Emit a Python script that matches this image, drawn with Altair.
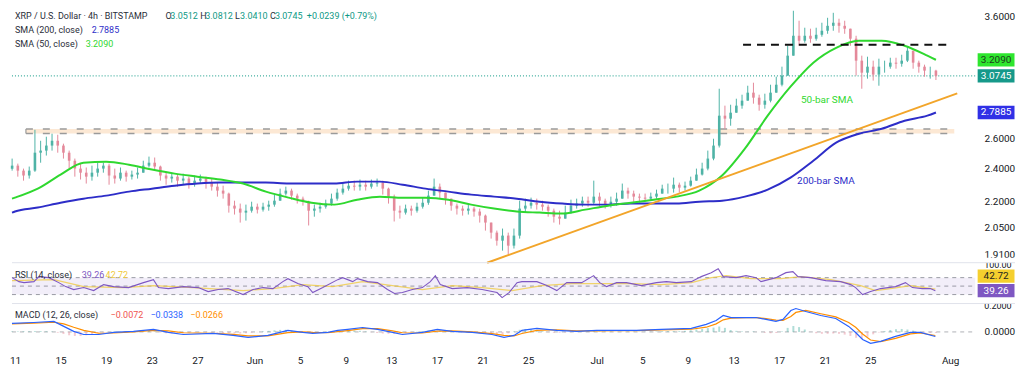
import altair as alt
import pandas as pd

FONT = "Roboto"
W, H_PRICE, H_RSI, H_MACD = 967, 255, 41, 47
EDGE = 40  # how far separators reach to the right of the plot

# ---------------- axes (x = days since 2025-05-11 00:00) ----------------
x_domain = [-0.262, 84.19]
tick_days = [0, 4, 8, 12, 16, 21, 25, 29, 33, 37, 41, 45, 51, 55, 59, 63, 67, 71, 75, 82]
tick_labels = ["11", "15", "19", "23", "27", "Jun", "5", "9", "13", "17", "21", "25",
               "Jul", "5", "9", "13", "17", "21", "25", "Aug"]
price_domain = [1.868, 3.678]
price_ticks = [1.91, 2.05, 2.2, 2.4, 2.6, 3.6]
rsi_domain = [8.8, 105.3]
macd_domain = [-0.137, 0.211]

# ---------------- candles (12h sampling of the 4h chart) ----------------
candle_start = -0.25
candle_step = 0.5
first_open = 2.40
close = [
    2.420, 2.388, 2.357, 2.388, 2.505, 2.519, 2.553, 2.586, 2.553, 2.505,
    2.452, 2.401, 2.375, 2.350, 2.375, 2.401, 2.420, 2.357, 2.338, 2.375,
    2.350, 2.363, 2.375, 2.420, 2.439, 2.414, 2.357, 2.338, 2.350, 2.325,
    2.338, 2.307, 2.325, 2.338, 2.313, 2.288, 2.264, 2.246, 2.175, 2.158,
    2.135, 2.146, 2.169, 2.152, 2.169, 2.181, 2.204, 2.246, 2.264, 2.234,
    2.216, 2.198, 2.146, 2.158, 2.169, 2.187, 2.216, 2.252, 2.276, 2.294,
    2.288, 2.300, 2.288, 2.307, 2.313, 2.276, 2.228, 2.146, 2.135, 2.158,
    2.146, 2.169, 2.192, 2.234, 2.288, 2.252, 2.216, 2.175, 2.158, 2.146,
    2.158, 2.141, 2.118, 2.079, 2.024, 1.981, 2.008, 1.955, 2.008, 2.158,
    2.175, 2.192, 2.181, 2.169, 2.146, 2.112, 2.101, 2.135, 2.175, 2.187,
    2.204, 2.192, 2.228, 2.204, 2.181, 2.198, 2.216, 2.264, 2.246, 2.228,
    2.222, 2.216, 2.228, 2.246, 2.276, 2.276, 2.300, 2.282, 2.294, 2.325,
    2.363, 2.401, 2.466, 2.553, 2.765, 2.743, 2.787, 2.840, 2.878, 2.940,
    2.901, 2.847, 2.878, 2.940, 3.003, 3.077, 3.245, 3.422, 3.377, 3.422,
    3.395, 3.431, 3.468, 3.514, 3.543, 3.514, 3.487, 3.395, 3.202, 3.101,
    3.151, 3.085, 3.151, 3.151, 3.185, 3.176, 3.202, 3.288, 3.185, 3.151,
    3.118, 3.118, 3.0745]
high = [
    2.466, 2.433, 2.401, 2.414, 2.663, 2.586, 2.614, 2.635, 2.628, 2.566,
    2.519, 2.466, 2.433, 2.408, 2.420, 2.439, 2.439, 2.433, 2.401, 2.408,
    2.388, 2.388, 2.408, 2.452, 2.479, 2.473, 2.420, 2.375, 2.375, 2.363,
    2.369, 2.350, 2.357, 2.363, 2.350, 2.338, 2.313, 2.294, 2.252, 2.204,
    2.187, 2.181, 2.198, 2.187, 2.192, 2.204, 2.240, 2.276, 2.288, 2.276,
    2.246, 2.228, 2.204, 2.181, 2.192, 2.210, 2.246, 2.276, 2.313, 2.325,
    2.325, 2.332, 2.325, 2.332, 2.338, 2.325, 2.282, 2.240, 2.175, 2.181,
    2.175, 2.192, 2.222, 2.264, 2.338, 2.307, 2.252, 2.216, 2.187, 2.175,
    2.181, 2.169, 2.158, 2.124, 2.079, 2.035, 2.046, 2.024, 2.046, 2.204,
    2.216, 2.222, 2.216, 2.204, 2.181, 2.158, 2.146, 2.175, 2.210, 2.216,
    2.228, 2.228, 2.325, 2.252, 2.216, 2.228, 2.252, 2.307, 2.282, 2.264,
    2.246, 2.246, 2.252, 2.270, 2.300, 2.307, 2.344, 2.313, 2.319, 2.350,
    2.401, 2.439, 2.519, 2.600, 2.971, 2.840, 2.847, 2.893, 2.924, 2.995,
    3.019, 2.924, 2.932, 3.003, 3.068, 3.151, 3.332, 3.658, 3.562, 3.496,
    3.487, 3.496, 3.543, 3.590, 3.638, 3.581, 3.562, 3.487, 3.422, 3.245,
    3.236, 3.202, 3.219, 3.202, 3.227, 3.227, 3.253, 3.323, 3.288, 3.202,
    3.168, 3.151, 3.125]
low = [
    2.388, 2.350, 2.325, 2.338, 2.380, 2.439, 2.486, 2.519, 2.505, 2.466,
    2.401, 2.350, 2.332, 2.307, 2.325, 2.350, 2.375, 2.300, 2.307, 2.325,
    2.319, 2.332, 2.338, 2.375, 2.408, 2.388, 2.325, 2.300, 2.313, 2.288,
    2.300, 2.276, 2.288, 2.307, 2.276, 2.264, 2.228, 2.216, 2.135, 2.124,
    2.079, 2.090, 2.135, 2.130, 2.141, 2.146, 2.169, 2.204, 2.234, 2.210,
    2.187, 2.175, 2.063, 2.112, 2.135, 2.158, 2.175, 2.204, 2.240, 2.264,
    2.264, 2.264, 2.264, 2.276, 2.288, 2.240, 2.187, 2.085, 2.101, 2.124,
    2.118, 2.135, 2.158, 2.180, 2.234, 2.216, 2.181, 2.146, 2.124, 2.118,
    2.124, 2.112, 2.079, 2.035, 1.992, 1.955, 1.929, 1.909, 1.940, 1.992,
    2.135, 2.158, 2.152, 2.146, 2.112, 2.079, 2.068, 2.101, 2.128, 2.158,
    2.169, 2.169, 2.181, 2.169, 2.158, 2.164, 2.175, 2.216, 2.216, 2.198,
    2.192, 2.198, 2.204, 2.216, 2.246, 2.246, 2.252, 2.252, 2.264, 2.288,
    2.325, 2.357, 2.390, 2.455, 2.540, 2.670, 2.692, 2.787, 2.817, 2.878,
    2.855, 2.802, 2.817, 2.865, 2.940, 2.990, 3.077, 3.245, 3.332, 3.359,
    3.359, 3.377, 3.413, 3.440, 3.468, 3.450, 3.440, 3.332, 3.077, 2.971,
    3.052, 3.036, 2.995, 3.101, 3.134, 3.134, 3.151, 3.190, 3.134, 3.101,
    3.068, 3.052, 3.041]

# ---------------- moving averages ----------------
sma_t = [-0.26, 0, 2, 4, 6, 8, 10, 12, 14, 16, 18, 20, 22, 24, 26, 28, 30, 32, 34, 36,
         38, 40, 42, 44, 46, 48, 50, 52, 54, 56, 58, 60, 62, 64, 66, 68, 70, 72, 74,
         76, 78, 80, 80.75]
sma50 = [2.216, 2.222, 2.276, 2.363, 2.439, 2.446, 2.426, 2.395, 2.369, 2.350, 2.332,
         2.307, 2.258, 2.222, 2.192, 2.181, 2.210, 2.228, 2.222, 2.222, 2.210, 2.181,
         2.158, 2.141, 2.135, 2.130, 2.152, 2.175, 2.192, 2.210, 2.228, 2.264, 2.357,
         2.532, 2.765, 2.987, 3.185, 3.314, 3.377, 3.377, 3.332, 3.245, 3.209]
sma200 = [2.135, 2.141, 2.164, 2.192, 2.216, 2.234, 2.258, 2.276, 2.294, 2.307, 2.313,
          2.313, 2.313, 2.307, 2.307, 2.307, 2.319, 2.319, 2.300, 2.276, 2.258, 2.240,
          2.228, 2.216, 2.198, 2.187, 2.181, 2.181, 2.187, 2.187, 2.187, 2.198, 2.204,
          2.228, 2.270, 2.344, 2.452, 2.573, 2.635, 2.670, 2.728, 2.765, 2.7885]

# ---------------- drawings ----------------
zone_t = [0.96, 82.36]
zone_price = [2.637, 2.668]
trend_t = [41.40, 82.62]
trend_price = [1.868, 2.934]
resist_t = [63.84, 81.83]
resist_price = 3.341
last_price = 3.0745

# ---------------- RSI ----------------
rsi_t = [-0.26, 0.35, 0.79, 1.66, 2.10, 2.97, 3.84, 4.45, 5.15, 6.03, 6.90, 7.77, 8.65,
         9.96, 11.27, 12.14, 12.58, 13.45, 14.76, 16.07, 16.94, 17.82, 18.69, 20.00,
         20.87, 21.75, 22.62, 23.49, 23.93, 24.80, 25.68, 26.11, 26.99, 28.30, 28.73,
         29.61, 30.04, 30.92, 31.79, 32.66, 33.28, 33.97, 34.85, 35.72, 36.42, 36.86,
         37.29, 38.34, 39.65, 40.96, 42.27, 42.71, 43.32, 44.02, 44.45, 45.76, 46.64,
         47.51, 48.38, 49.69, 50.74, 51.27, 51.88, 52.75, 53.62, 54.93, 56.24, 57.12,
         57.99, 59.30, 60.17, 61.05, 61.66, 62.10, 63.23, 64.10, 64.98, 65.41, 66.72,
         67.60, 68.21, 68.65, 69.78, 71.09, 72.40, 73.28, 73.71, 74.32, 75.02, 75.90,
         77.21, 78.08, 78.69, 79.56, 80.26, 80.70]
rsi_v = [70.0, 60.6, 58.2, 60.6, 72.4, 70.0, 58.2, 48.8, 41.8, 46.5, 39.4, 53.5, 48.8,
         46.5, 58.2, 65.3, 46.5, 44.1, 48.8, 46.5, 37.1, 41.8, 44.1, 30.0, 41.8, 46.5,
         44.1, 60.6, 67.6, 55.9, 48.8, 34.7, 46.5, 65.3, 70.0, 60.6, 67.6, 60.6, 58.2,
         41.8, 32.4, 34.7, 41.8, 46.5, 60.6, 74.7, 53.5, 44.1, 46.5, 41.8, 34.7, 22.9,
         34.7, 58.2, 60.6, 60.6, 51.2, 39.4, 58.2, 58.2, 74.7, 58.2, 48.8, 58.2, 58.2,
         51.2, 58.2, 60.6, 58.2, 60.6, 72.4, 81.8, 91.2, 72.4, 70.0, 74.7, 70.0, 60.6,
         70.0, 81.8, 84.1, 72.4, 70.0, 62.9, 60.6, 53.5, 46.5, 30.0, 37.1, 44.1, 48.8,
         58.2, 46.5, 44.1, 44.1, 39.26]
rsima_t = [-0.26, 3.41, 6.03, 9.52, 12.14, 15.63, 20.00, 22.62, 25.24, 27.86, 30.48,
           33.10, 35.72, 38.34, 40.96, 43.58, 46.20, 48.82, 51.44, 54.06, 56.68, 59.30,
           61.05, 62.36, 64.54, 67.16, 68.91, 71.53, 74.15, 75.46, 76.77, 78.52, 80.70]
rsima_v = [62.9, 65.3, 48.8, 46.5, 51.2, 46.5, 39.4, 44.1, 53.5, 48.8, 60.6, 51.2, 41.8,
           51.2, 46.5, 39.4, 51.2, 55.9, 55.9, 55.9, 53.5, 58.2, 70.0, 74.7, 67.6, 67.6,
           72.4, 65.3, 51.2, 39.4, 44.1, 51.2, 42.72]
rsi_levels = [30, 50, 70]

# ---------------- MACD ----------------
macd_t = [-0.26, 1.66, 3.41, 4.28, 5.15, 6.03, 7.34, 8.65, 10.39, 12.14, 13.45, 14.76,
          17.38, 19.13, 20.44, 22.18, 23.93, 25.24, 26.11, 27.42, 28.30, 29.17, 30.48,
          31.79, 33.10, 33.97, 35.72, 37.03, 38.34, 40.09, 41.83, 42.88, 43.76, 44.45,
          45.76, 47.51, 49.26, 51.00, 52.75, 54.50, 56.68, 59.30, 60.61, 61.48, 62.10,
          62.79, 64.10, 64.98, 65.85, 66.72, 67.34, 68.03, 68.47, 69.34, 70.66, 71.97,
          73.10, 73.71, 74.32, 75.02, 75.90, 77.21, 78.52, 79.39, 80.70]
macd_v = [0.063, 0.070, 0.078, 0.041, 0.004, -0.019, -0.019, -0.004, 0.004, 0.019,
          -0.004, -0.019, -0.011, -0.026, -0.041, -0.026, 0.011, -0.004, -0.011, -0.004,
          0.011, 0.019, 0.033, 0.019, -0.004, -0.019, -0.004, 0.019, 0.004, -0.004,
          -0.019, -0.041, -0.026, 0.011, 0.026, 0.011, 0.004, 0.011, 0.011, 0.011,
          0.019, 0.026, 0.056, 0.085, 0.122, 0.107, 0.107, 0.107, 0.093, 0.078,
          0.093, 0.159, 0.174, 0.152, 0.122, 0.100, 0.041, -0.004, -0.056, -0.085,
          -0.070, -0.033, -0.004, -0.004, -0.0338]
signal_v = [0.060, 0.066, 0.072, 0.060, 0.035, 0.012, -0.010, -0.008, 0.000, 0.012,
            0.008, -0.006, -0.010, -0.018, -0.030, -0.030, -0.005, 0.000, -0.004, -0.006,
            0.002, 0.010, 0.024, 0.024, 0.008, -0.006, -0.008, 0.006, 0.008, 0.000,
            -0.012, -0.026, -0.030, -0.012, 0.012, 0.016, 0.008, 0.008, 0.010, 0.010,
            0.015, 0.020, 0.035, 0.060, 0.090, 0.102, 0.106, 0.106, 0.100, 0.088,
            0.086, 0.115, 0.145, 0.160, 0.135, 0.112, 0.070, 0.035, -0.015, -0.060,
            -0.072, -0.048, -0.015, -0.008, -0.0266]
hist = [0.004, 0.004, 0.005, 0.005, 0.006, 0.006, 0.005, 0.003, -0.006, -0.015,
        -0.025, -0.030, -0.030, -0.025, -0.015, -0.010, -0.005, 0.000, 0.004, 0.004,
        0.005, 0.005, 0.006, 0.007, 0.007, 0.004, -0.004, -0.010, -0.012, -0.012,
        -0.010, -0.006, -0.004, -0.002, -0.002, -0.004, -0.006, -0.008, -0.010, -0.012,
        -0.012, -0.010, -0.006, -0.002, 0.004, 0.008, 0.012, 0.015, 0.016, 0.010,
        0.004, -0.002, -0.006, -0.006, -0.004, 0.002, 0.006, 0.008, 0.010, 0.010,
        0.010, 0.008, 0.004, -0.002, -0.008, -0.012, -0.014, -0.014, -0.012, -0.008,
        -0.004, 0.002, 0.006, 0.010, 0.014, 0.012, 0.006, 0.002, -0.002, -0.004,
        -0.006, -0.008, -0.010, -0.012, -0.014, -0.016, -0.016, -0.010, 0.004, 0.016,
        0.022, 0.020, 0.014, 0.006, -0.002, -0.006, -0.006, -0.004, -0.002, 0.002,
        0.004, 0.004, 0.006, 0.004, 0.002, 0.002, 0.000, 0.002, 0.002, 0.002,
        0.002, 0.002, 0.002, 0.004, 0.006, 0.006, 0.006, 0.006, 0.008, 0.012,
        0.018, 0.022, 0.028, 0.032, 0.040, 0.030, 0.014, 0.008, 0.004, 0.002,
        0.004, 0.000, -0.006, -0.010, -0.008, 0.004, 0.030, 0.044, 0.036, 0.018,
        0.000, -0.010, -0.014, -0.014, -0.012, -0.014, -0.020, -0.030, -0.044, -0.052,
        -0.036, -0.018, -0.004, 0.006, 0.014, 0.020, 0.022, 0.018, 0.010, 0.000,
        -0.006, -0.008, -0.0072]

# ---------------- colours ----------------
UP, DOWN = "#4fb3a6", "#e4899a"
GREEN, BLUE, ORANGE = "#2fd82f", "#2d2dc8", "#f2a52a"
TEAL, DARK = "#0e9985", "#2a2e39"
PURPLE, YELLOW = "#7e57c2", "#f0c93a"
MACD_BLUE, MACD_ORANGE, HIST_RED = "#2962ff", "#ff8f00", "#ef5350"
SEP = "#e0e3eb"
BOX = "M-1,-0.36L1,-0.36L1,0.36L-1,0.36Z"

# ---------------- data tables ----------------
n = min(len(close), len(high), len(low))
candle_t = [candle_start + candle_step * i for i in range(n)]
opens = [first_open] + close[: n - 1]
candles = pd.DataFrame({"t": candle_t, "open": opens, "close": close[:n],
                        "high": high[:n], "low": low[:n]})
candles["dir"] = ["up" if c >= o else "down" for o, c in zip(opens, close[:n])]
sma = pd.DataFrame({"t": sma_t, "sma50": sma50, "sma200": sma200})
rsi_df = pd.DataFrame({"t": rsi_t, "v": rsi_v})
rsima_df = pd.DataFrame({"t": rsima_t, "v": rsima_v})
macd_df = pd.DataFrame({"t": macd_t, "macd": macd_v, "signal": signal_v})
hist_df = pd.DataFrame({"t": candle_t[: len(hist)], "h": hist[: len(candle_t)]})
hist_df["zero"] = 0.0
hist_df["dir"] = ["up" if v >= 0 else "down" for v in hist_df["h"]]

# ---------------- scales / encodings ----------------
xs = alt.Scale(domain=x_domain, nice=False, zero=False, padding=0)
label_expr = ("[" + ",".join(f"'{s}'" for s in tick_labels) + "][indexof(["
              + ",".join(str(d) for d in tick_days) + "], datum.value)]")
x_axis = alt.Axis(values=tick_days, labelExpr=label_expr, labelPadding=5,
                  labelFontSize=10, labelColor="#131722", labelFont=FONT,
                  domain=False, ticks=False, grid=False, labelFlush=False)


def X(f, axis=None):
    return alt.X(f, type="quantitative", scale=xs, axis=axis, title=None)


ps = alt.Scale(type="log", domain=price_domain, nice=False, padding=0)
p_axis = alt.Axis(orient="right", values=price_ticks, format=".4f", labelPadding=9,
                  labelFontSize=10, labelColor="#131722", labelFont=FONT,
                  domain=False, ticks=False, grid=False, labelOverlap=False)


def PY(f):
    return alt.Y(f, type="quantitative", scale=ps, axis=p_axis, title=None)


rs = alt.Scale(domain=rsi_domain, nice=False, zero=False, padding=0)


def RY(f):
    return alt.Y(f, type="quantitative", scale=rs, axis=None, title=None)


ms = alt.Scale(domain=macd_domain, nice=False, zero=False, padding=0)
m_axis = alt.Axis(orient="right", values=[0], format=".4f", labelPadding=9,
                  labelFontSize=10, labelColor="#131722", labelFont=FONT,
                  domain=False, ticks=False, grid=False)


def MY(f):
    return alt.Y(f, type="quantitative", scale=ms, axis=m_axis, title=None)


dir_color = alt.Color("dir:N", scale=alt.Scale(domain=["up", "down"], range=[UP, DOWN]),
                      legend=None)


def text_layer(rows, size=9):
    df = pd.DataFrame(rows, columns=["px", "py", "text", "color"])
    return alt.Chart(df).mark_text(align="left", baseline="middle", fontSize=size,
                                   font=FONT).encode(
        x=alt.X("px:Q", scale=None, axis=None),
        y=alt.Y("py:Q", scale=None, axis=None),
        text="text:N", color=alt.Color("color:N", scale=None))


def one(**kw):
    return pd.DataFrame({k: [v] for k, v in kw.items()})


# ================= price panel =================
zone_fill = alt.Chart(one(t0=zone_t[0], t1=zone_t[1], lo=zone_price[0], hi=zone_price[1])).mark_rect(
    color="#fbe0c6", opacity=0.75).encode(x=X("t0"), x2="t1", y=PY("lo"), y2="hi")
zone_lines = alt.Chart(pd.DataFrame({"t0": [zone_t[0]] * 2, "t1": [zone_t[1]] * 2,
                                     "p": zone_price})).mark_rule(
    color="#9a9a9a", strokeWidth=1.5, strokeDash=[7, 10]).encode(x=X("t0"), x2="t1", y=PY("p"))
zone_edge = alt.Chart(one(t0=zone_t[0], lo=zone_price[0], hi=zone_price[1])).mark_rule(
    color="#9a9a9a", strokeWidth=1.2).encode(x=X("t0"), y=PY("lo"), y2="hi")
price_line = alt.Chart(one(p=last_price)).mark_rule(
    color=TEAL, strokeWidth=1, strokeDash=[1, 2]).encode(
    x=alt.value(0), x2=alt.value(W), y=PY("p"))
wicks = alt.Chart(candles).mark_rule(strokeWidth=1).encode(
    x=X("t"), y=PY("low"), y2="high", color=dir_color)
bodies = alt.Chart(candles).mark_bar(size=2.6).encode(
    x=X("t"), y=PY("open"), y2="close", color=dir_color)
l200 = alt.Chart(sma).mark_line(color=BLUE, strokeWidth=2, interpolate="monotone").encode(
    x=X("t"), y=PY("sma200"))
l50 = alt.Chart(sma).mark_line(color=GREEN, strokeWidth=2, interpolate="monotone").encode(
    x=X("t"), y=PY("sma50"))
trend = alt.Chart(pd.DataFrame({"t": trend_t, "p": trend_price})).mark_line(
    color=ORANGE, strokeWidth=2).encode(x=X("t"), y=PY("p"))
resist = alt.Chart(one(t0=resist_t[0], t1=resist_t[1], p=resist_price)).mark_rule(
    color="#111111", strokeWidth=2, strokeDash=[8, 6]).encode(x=X("t0"), x2="t1", y=PY("p"))
notes = alt.Chart(pd.DataFrame({"t": [71.2, 71.1], "p": [2.886, 2.325],
                                "text": ["50-bar SMA", "200-bar SMA"],
                                "color": [GREEN, BLUE]})).mark_text(
    fontSize=10, font=FONT, align="center", baseline="middle").encode(
    x=X("t"), y=PY("p"), text="text:N", color=alt.Color("color:N", scale=None))
price_legend = text_layer([
    (3, 7, "XRP / U.S. Dollar · 4h · BITSTAMP", DARK),
    (154, 7, "O", DARK), (159, 7, "3.0512", TEAL),
    (189, 7, "H", DARK), (194, 7, "3.0812", TEAL),
    (224, 7, "L", DARK), (229, 7, "3.0410", TEAL),
    (259, 7, "C", DARK), (264, 7, "3.0745", TEAL),
    (296, 7, "+0.0239 (+0.79%)", TEAL),
    (3, 21, "SMA (200, close)", DARK), (80, 21, "2.7885", BLUE),
    (3, 35, "SMA (50, close)", DARK), (74, 35, "3.2090", GREEN),
])
pboxes = pd.DataFrame({"p": [3.2090, 3.0745, 2.7885],
                       "label": ["3.2090", "3.0745", "2.7885"],
                       "bg": ["#2ee62e", "#16998a", "#3030e6"],
                       "fg": ["#1d3a1d", "#ffffff", "#ffffff"]})
pbox = alt.Chart(pboxes).mark_point(shape=BOX, size=1369, filled=True, opacity=1,
                                    strokeWidth=0).encode(
    x=alt.value(W + 21), y=PY("p"), color=alt.Color("bg:N", scale=None))
pbox_text = alt.Chart(pboxes).mark_text(fontSize=10, font=FONT, align="center",
                                        baseline="middle").encode(
    x=alt.value(W + 21), y=PY("p"), text="label:N", color=alt.Color("fg:N", scale=None))

price = alt.layer(zone_fill, zone_lines, zone_edge, price_line, wicks, bodies, l200, l50,
                  trend, resist, notes, price_legend, pbox, pbox_text).properties(
    width=W, height=H_PRICE)

# ================= RSI panel =================
band = alt.Chart(one(lo=30, hi=70)).mark_rect(color=PURPLE, opacity=0.1).encode(
    x=alt.value(0), x2=alt.value(W), y=RY("lo"), y2="hi")
levels = alt.Chart(pd.DataFrame({"lvl": rsi_levels})).mark_rule(
    color="#787b86", strokeDash=[4, 4], strokeWidth=1, opacity=0.75).encode(
    x=alt.value(0), x2=alt.value(W), y=RY("lvl"))
rsima_line = alt.Chart(rsima_df).mark_line(color=YELLOW, strokeWidth=1.2, opacity=0.75).encode(
    x=X("t"), y=RY("v"))
rsi_line = alt.Chart(rsi_df).mark_line(color=PURPLE, strokeWidth=1.1).encode(
    x=X("t"), y=RY("v"))
rsi_legend = text_layer([(3, 12, "RSI (14, close)", DARK), (70, 12, "39.26", PURPLE),
                         (94, 12, "42.72", YELLOW)])
rbox_p = alt.Chart(one(v=39.26, label="39.26")).mark_point(
    shape=BOX, size=1369, filled=True, opacity=1, strokeWidth=0, color=PURPLE).encode(
    x=alt.value(W + 21), y=RY("v"))
rbox_p_t = alt.Chart(one(v=39.26, label="39.26")).mark_text(
    fontSize=10, font=FONT, color="#ffffff").encode(
    x=alt.value(W + 21), y=RY("v"), text="label:N")
rbox_y = alt.Chart(one(v=42.72, label="42.72")).mark_point(
    shape=BOX, size=1369, filled=True, opacity=1, strokeWidth=0, color="#f5cf2e",
    yOffset=-13).encode(x=alt.value(W + 21), y=RY("v"))
rbox_y_t = alt.Chart(one(v=42.72, label="42.72")).mark_text(
    fontSize=10, font=FONT, color="#1e1e1e", yOffset=-13).encode(
    x=alt.value(W + 21), y=RY("v"), text="label:N")
r_top_label = alt.Chart(one(label="100.00")).mark_text(
    fontSize=9, font=FONT, color="#131722", align="left", baseline="middle").encode(
    x=alt.value(W + 9), y=alt.value(2), text="label:N")
r_mask = alt.Chart(one(a=0)).mark_rect(color="white").encode(
    x=alt.value(W + 2), x2=alt.value(W + EDGE), y=alt.value(-5), y2=alt.value(0))
r_sep = alt.Chart(one(a=0)).mark_rule(color=SEP, strokeWidth=1).encode(
    x=alt.value(0), x2=alt.value(W + EDGE), y=alt.value(0))

rsi = alt.layer(band, levels, rsima_line, rsi_line, rsi_legend, rbox_p, rbox_p_t, rbox_y,
                rbox_y_t, r_top_label, r_mask, r_sep).properties(width=W, height=H_RSI)

# ================= MACD panel =================
zero_line = alt.Chart(one(z=0.0)).mark_rule(
    color="#787b86", strokeDash=[4, 4], strokeWidth=1, opacity=0.6).encode(
    x=alt.value(0), x2=alt.value(W), y=MY("z"))
hist_bars = alt.Chart(hist_df).mark_bar(size=2, opacity=0.45).encode(
    x=X("t", x_axis), y=MY("h"), y2="zero",
    color=alt.Color("dir:N", scale=alt.Scale(domain=["up", "down"],
                                             range=["#26a69a", HIST_RED]), legend=None))
sig_line = alt.Chart(macd_df).mark_line(color=MACD_ORANGE, strokeWidth=1.2).encode(
    x=X("t", x_axis), y=MY("signal"))
macd_line = alt.Chart(macd_df).mark_line(color=MACD_BLUE, strokeWidth=1.2).encode(
    x=X("t", x_axis), y=MY("macd"))
macd_legend = text_layer([(3, 12, "MACD (12, 26, close)", DARK),
                          (99, 12, "\u22120.0072", HIST_RED),
                          (139, 12, "\u22120.0338", MACD_BLUE),
                          (179, 12, "\u22120.0266", MACD_ORANGE)])
m_top_label = alt.Chart(one(label="0.2000")).mark_text(
    fontSize=9, font=FONT, color="#131722", align="left", baseline="middle").encode(
    x=alt.value(W + 9), y=alt.value(2), text="label:N")
m_mask = alt.Chart(one(a=0)).mark_rect(color="white").encode(
    x=alt.value(W + 2), x2=alt.value(W + EDGE), y=alt.value(-5), y2=alt.value(0))
m_sep = alt.Chart(one(a=0)).mark_rule(color=SEP, strokeWidth=1).encode(
    x=alt.value(0), x2=alt.value(W + EDGE), y=alt.value(0))

macd = alt.layer(zero_line, hist_bars, sig_line, macd_line, macd_legend, m_top_label,
                 m_mask, m_sep).properties(width=W, height=H_MACD)

chart = alt.vconcat(price, rsi, macd, spacing=0, bounds="flush", padding=0).configure_view(
    stroke=None).configure_axis(grid=False, domain=False, ticks=False).configure_text(font=FONT)

chart.save("out.html", embed_options={"renderer": "svg", "actions": False})
